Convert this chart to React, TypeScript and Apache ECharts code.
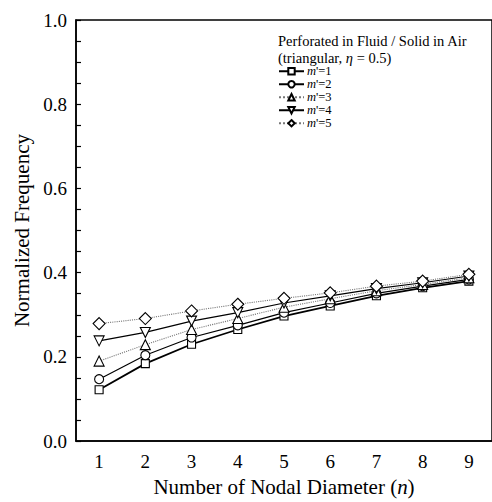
import React, { useEffect, useRef } from "react";
import * as echarts from "echarts";

const nodalDiameters = ["1", "2", "3", "4", "5", "6", "7", "8", "9"];
const seriesNames = ["m'=1", "m'=2", "m'=3", "m'=4", "m'=5"];
const m1 = [0.122, 0.184, 0.23, 0.265, 0.297, 0.321, 0.345, 0.364, 0.38];
const m2 = [0.147, 0.204, 0.246, 0.275, 0.305, 0.328, 0.351, 0.368, 0.384];
const m3 = [0.19, 0.229, 0.265, 0.291, 0.318, 0.338, 0.357, 0.372, 0.388];
const m4 = [0.238, 0.258, 0.285, 0.305, 0.328, 0.345, 0.362, 0.376, 0.392];
const m5 = [0.279, 0.291, 0.309, 0.325, 0.339, 0.352, 0.368, 0.38, 0.396];
const yTicks = [0, 0.2, 0.4, 0.6, 0.8, 1.0];
const legendTitle = "{t|Perforated in Fluid / Solid in Air}\n{t|(triangular, }{i|η}{t| = 0.5)}";

const FONT = "Liberation Serif";

export default function App() {
  const ref = useRef<HTMLDivElement>(null);
  useEffect(() => {
    if (!ref.current) return;
    const chart = echarts.init(ref.current, null, { renderer: "svg" });
    const styles = [
      { symbol: "rect", size: 8, rotate: 0, color: "#000", width: 1.8, type: "solid" },
      { symbol: "circle", size: 9, rotate: 0, color: "#000", width: 1.2, type: "solid" },
      { symbol: "triangle", size: 10, rotate: 0, color: "#777", width: 1.1, type: "dotted" },
      { symbol: "triangle", size: 10, rotate: 180, color: "#000", width: 1.2, type: "solid" },
      { symbol: "diamond", size: 12, rotate: 0, color: "#777", width: 1.1, type: "dotted" },
    ];
    const data = [m1, m2, m3, m4, m5];
    const series = data.map((d, i) => ({
      name: seriesNames[i],
      type: "line",
      data: d,
      symbol: styles[i].symbol,
      symbolSize: styles[i].size,
      symbolRotate: styles[i].rotate,
      showAllSymbol: true,
      lineStyle: { color: styles[i].color, width: styles[i].width, type: styles[i].type },
      itemStyle: { color: "#fff", borderColor: "#000", borderWidth: 1.1 },
      z: 2 + i,
    }));
    chart.setOption({
      animation: false,
      backgroundColor: "#fff",
      textStyle: { fontFamily: FONT, color: "#000" },
      grid: {
        left: 76,
        top: 20,
        width: 418.5,
        height: 422,
        show: true,
        borderColor: "#000",
        borderWidth: 1.5,
        backgroundColor: "transparent",
      },
      legend: {
        orient: "vertical",
        left: 278,
        top: 64.75,
        padding: 0,
        itemWidth: 25,
        itemHeight: 8,
        itemGap: 0,
        selectedMode: false,
        data: seriesNames,
        formatter: (name: string) => `{i|m}{r|${name.slice(1)}}`,
        textStyle: {
          fontFamily: FONT,
          fontSize: 12.5,
          color: "#000",
          padding: [0, 0, 0, -2],
          rich: {
            i: { fontStyle: "italic", fontFamily: FONT, fontSize: 12.5 },
            r: { fontFamily: FONT, fontSize: 12.5 },
          },
        },
      },
      graphic: [
        {
          type: "text",
          left: 278,
          top: 32.75,
          style: {
            text: legendTitle,
            fontFamily: FONT,
            fontSize: 14.5,
            lineHeight: 16.5,
            fill: "#000",
            rich: {
              t: { fontFamily: FONT, fontSize: 14.5, lineHeight: 16.5 },
              i: { fontStyle: "italic", fontFamily: FONT, fontSize: 14.5, lineHeight: 16.5 },
            },
          },
        },
      ],
      xAxis: {
        type: "category",
        data: nodalDiameters,
        boundaryGap: true,
        name: "Number of Nodal Diameter ({i|n})",
        nameLocation: "middle",
        nameGap: 34,
        nameTextStyle: {
          fontFamily: FONT,
          fontSize: 21,
          color: "#000",
          rich: { i: { fontStyle: "italic", fontFamily: FONT, fontSize: 21 } },
        },
        axisLine: { lineStyle: { color: "#000", width: 1.5 } },
        axisTick: { inside: true, alignWithLabel: true, length: 6, lineStyle: { color: "#000", width: 1.2 } },
        axisLabel: { fontFamily: FONT, fontSize: 19, color: "#000", margin: 11 },
        splitLine: { show: false },
      },
      yAxis: {
        type: "value",
        min: yTicks[0],
        max: yTicks[yTicks.length - 1],
        interval: 0.2,
        name: "Normalized Frequency",
        nameLocation: "middle",
        nameGap: 44,
        nameTextStyle: { fontFamily: FONT, fontSize: 21, color: "#000" },
        axisLine: { show: true, lineStyle: { color: "#000", width: 1.5 } },
        axisTick: { show: true, inside: true, length: 5, lineStyle: { color: "#000", width: 1.2 } },
        minorTick: { show: true, splitNumber: 4, length: 5, lineStyle: { color: "#000", width: 1.2 } },
        axisLabel: {
          fontFamily: FONT,
          fontSize: 19,
          color: "#000",
          margin: 9,
          formatter: (v: number) => v.toFixed(1),
        },
        splitLine: { show: false },
      },
      series,
    });
    return () => chart.dispose();
  }, []);
  return (
    <div
      ref={ref}
      style={{ position: "absolute", left: 0, top: 0, width: 492, height: 502, background: "#fff" }}
    />
  );
}
